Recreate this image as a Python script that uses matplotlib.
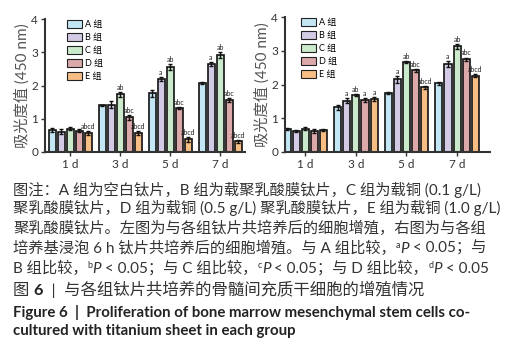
import numpy as np
import matplotlib
matplotlib.use("Agg")
import matplotlib.pyplot as plt
from matplotlib.patches import Patch

W, H = 519, 347

days = ["1 d", "3 d", "5 d", "7 d"]
groups = ["A 组", "B 组", "C 组", "D 组", "E 组"]
colors = ["#c3e6f4", "#d3cbe6", "#cbe9cb", "#dba9a9", "#f6bd84"]

# left panel: cells cultured together with the titanium sheets
left_vals = [
    [0.66, 1.40, 1.76, 2.08],  # A
    [0.61, 1.42, 2.20, 2.65],  # B
    [0.70, 1.73, 2.56, 2.92],  # C
    [0.64, 1.04, 1.31, 1.56],  # D
    [0.56, 0.58, 0.38, 0.32],  # E
]
left_err = [
    [0.06, 0.02, 0.10, 0.03],
    [0.07, 0.10, 0.07, 0.05],
    [0.04, 0.08, 0.10, 0.08],
    [0.05, 0.07, 0.03, 0.07],
    [0.06, 0.06, 0.07, 0.05],
]
left_marks = [
    ["", "", "", ""],
    ["", "", "a", "a"],
    ["", "ab", "ab", "ab"],
    ["", "abc", "abc", "abc"],
    ["abcd", "abcd", "abcd", "abcd"],
]

# right panel: cells cultured with medium soaked 6 h
right_vals = [
    [0.67, 1.32, 1.76, 2.03],
    [0.62, 1.52, 2.15, 2.61],
    [0.69, 1.69, 2.67, 3.13],
    [0.62, 1.54, 2.42, 2.75],
    [0.64, 1.57, 1.92, 2.26],
]
right_err = [
    [0.03, 0.08, 0.03, 0.04],
    [0.04, 0.08, 0.10, 0.08],
    [0.05, 0.02, 0.03, 0.07],
    [0.05, 0.06, 0.04, 0.05],
    [0.03, 0.07, 0.04, 0.05],
]
right_marks = [
    ["", "", "", ""],
    ["", "a", "a", "a"],
    ["", "ab", "ab", "ab"],
    ["", "a", "abc", "abc"],
    ["", "a", "abcd", "abcd"],
]

CJK = ["Lato", "Noto Sans CJK SC", "DejaVu Sans"]
plt.rcParams["font.family"] = CJK

fig = plt.figure(figsize=(W / 100, H / 100), dpi=100)


def panel(rect, vals, errs, marks, xlim, leg_x):
    ax = fig.add_axes(rect)
    x = np.arange(len(days))
    for i in range(len(groups)):
        ax.bar(x + (i - 2) * 0.18, vals[i], 0.14, color=colors[i],
               edgecolor="#111111", linewidth=1.2, yerr=errs[i],
               error_kw=dict(ecolor="#111111", elinewidth=1, capsize=1.5, capthick=1))
        for j in range(len(days)):
            if marks[i][j]:
                ax.text(x[j] + (i - 2) * 0.18, vals[i][j] + errs[i][j] + 0.03, marks[i][j],
                        ha="center", va="bottom", fontsize=5, color="#222222")
    ax.set_xlim(*xlim)
    ax.set_ylim(0, 4)
    ax.set_yticks([0, 1, 2, 3, 4])
    ax.set_xticks(x)
    ax.set_xticklabels(days)
    ax.tick_params(labelsize=8.5, colors="#333333", length=3, width=1, pad=2)
    for s in ["top", "right"]:
        ax.spines[s].set_visible(False)
    for s in ["left", "bottom"]:
        ax.spines[s].set_linewidth(1.5)
        ax.spines[s].set_color("#333333")
    ax.set_ylabel("吸光度值 (450 nm)", fontsize=11, color="#555555", labelpad=1)
    handles = [Patch(facecolor=c, edgecolor="#222222", linewidth=0.8) for c in colors]
    ax.legend(handles, groups, loc="upper left", bbox_to_anchor=(leg_x, 1.02),
              frameon=False, fontsize=6.5, handlelength=1.7, handleheight=0.9,
              labelspacing=0.45, handletextpad=0.3, borderaxespad=0)
    return ax


panel([45 / W, 1 - 152 / H, 200 / W, 133 / H], left_vals, left_err, left_marks,
      (-0.5, 3.5), 0.09)
panel([285 / W, 1 - 152 / H, 205 / W, 135 / H], right_vals, right_err, right_marks,
      (-0.4, 3.65), 0.06)

# caption, drawn as runs of differently styled text
rend = fig.canvas.get_renderer()


def width(s, kw):
    a = fig.text(0, 0, "|" + s + "|", **kw)
    b = fig.text(0, 0, "||", **kw)
    w = a.get_window_extent(rend).width - b.get_window_extent(rend).width
    a.remove()
    b.remove()
    return w


def line(y, runs, x=13):
    for s, kw in runs:
        kw = dict(kw)
        dy = kw.pop("dy", 0)
        fig.text(x / W, 1 - (y - dy) / H, s, ha="left", va="baseline", **kw)
        x += width(s, kw)


fs = 11
reg = dict(fontsize=fs, color="#333333", family=CJK)
ital = dict(fontsize=fs, color="#333333", family=CJK, style="italic")
sup = dict(fontsize=6.5, color="#333333", family=CJK, dy=5)
title = dict(fontsize=11.8, color="#333333", family=CJK)
bold = dict(fontsize=11.8, color="#222222", family=CJK, weight="bold")
eng = dict(fontsize=10.8, color="#222222", family=CJK, weight="bold")

line(195, [("图注：A 组为空白钛片，B 组为载聚乳酸膜钛片，C 组为载铜 (0.1 g/L)", reg)])
line(213, [("聚乳酸膜钛片，D 组为载铜 (0.5 g/L) 聚乳酸膜钛片，E 组为载铜 (1.0 g/L)", reg)])
line(233, [("聚乳酸膜钛片。左图为与各组钛片共培养后的细胞增殖，右图为与各组", reg)])
line(253, [("培养基浸泡 6 h 钛片共培养后的细胞增殖。与 A 组比较，", reg), ("a", sup),
           ("P", ital), (" < 0.05；与", reg)])
line(273, [("B 组比较，", reg), ("b", sup), ("P", ital), (" < 0.05；与 C 组比较，", reg),
           ("c", sup), ("P", ital), (" < 0.05；与 D 组比较，", reg), ("d", sup),
           ("P", ital), (" < 0.05", reg)])
line(295, [("图 ", title), ("6", bold), ("  |  与各组钛片共培养的骨髓间充质干细胞的增殖情况", title)])
line(317, [("Figure 6  |  Proliferation of bone marrow mesenchymal stem cells co-", eng)])
line(335, [("cultured with titanium sheet in each group", eng)])

fig.savefig("out.png", dpi=100)
